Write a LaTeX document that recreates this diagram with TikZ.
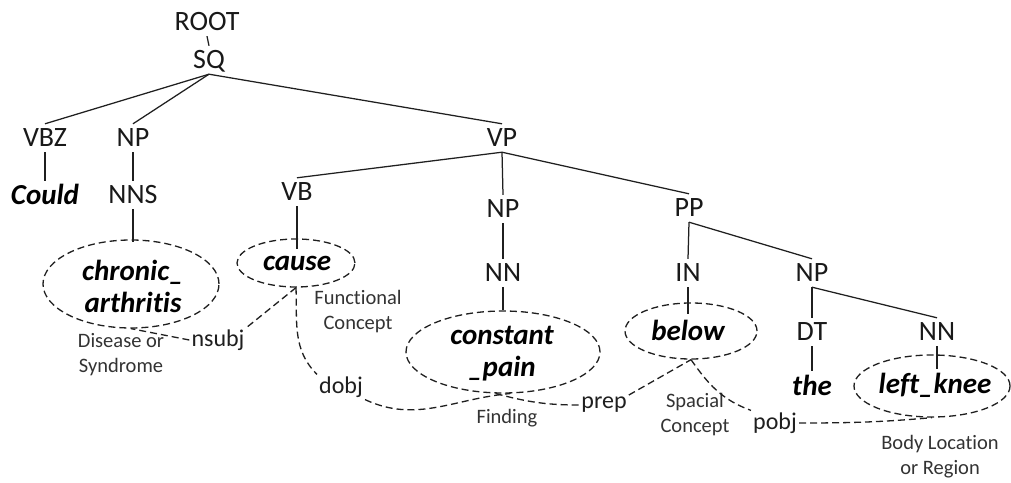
\documentclass[tikz,border=0pt]{standalone}
\usepackage{fontspec}
\setmainfont{Carlito}[Ligatures={NoCommon}]
\usetikzlibrary{shapes.geometric,calc}
\begin{document}
\begin{tikzpicture}[x=1pt,y=1pt,
  tag/.style={font=\fontsize{28}{30}\selectfont, text=black!90, inner xsep=1pt, inner ysep=5pt, text height=18pt, text depth=0pt},
  word/.style={font=\fontsize{29}{30}\selectfont\bfseries\itshape, inner xsep=1pt, inner ysep=4pt, text height=20pt, text depth=0pt},
  ewords/.style={font=\fontsize{29}{32}\selectfont\bfseries\itshape, align=center, inner sep=0pt},
  sem/.style={font=\fontsize{20.5}{25}\selectfont, text=black!80, align=center, inner sep=1pt},
  dep/.style={font=\fontsize{24}{26}\selectfont, text=black!88, inner sep=2pt},
  treeline/.style={line width=1.25pt, black!88},
  dashline/.style={line width=1.3pt, dash pattern=on 7pt off 4pt, black!88},
  concept/.style={ellipse, draw=black!88, line width=1.3pt, dash pattern=on 7pt off 4pt, inner sep=0pt},
]
\useasboundingbox[fill=white] (0,0) rectangle (1011,482);

% tree labels
\node[tag] (root) at (207,460) {ROOT};
\node[tag] (sq) at (209,422) {SQ};
\node[tag] (vbz) at (45,344) {VBZ};
\node[tag] (np1) at (133,344) {NP};
\node[tag] (vp) at (502,344) {VP};
\node[word] (could) at (45,287) {Could};
\node[tag] (nns) at (133,287) {NNS};
\node[tag] (vb) at (297,290) {VB};
\node[tag] (np2) at (503,273) {NP};
\node[tag] (pp) at (689,274) {PP};
\node[tag] (nn1) at (503,209) {NN};
\node[tag] (inn) at (688,209) {IN};
\node[tag] (np3) at (812,209) {NP};
\node[tag] (dt) at (812,150) {DT};
\node[tag] (nn2) at (937,150) {NN};
\node[word] (the) at (812,97) {the};

% concept ellipses
\node[concept, minimum width=176, minimum height=88] (chronicE) at (131,198) {};
\node[ewords] (chronicT) at (133,196) {chronic\_\\arthritis};
\node[concept, minimum width=118, minimum height=48] (causeE) at (296,219) {};
\node[ewords] (causeT) at (297,219) {cause};
\node[concept, minimum width=194, minimum height=82] (constE) at (503,130) {};
\node[ewords] (constT) at (502,128) {constant\\\_pain};
\node[concept, minimum width=132, minimum height=56] (belowE) at (691,151) {};
\node[ewords] (belowT) at (688,152) {below};
\node[concept, minimum width=156, minimum height=62] (kneeE) at (932,96) {};
\node[ewords] (kneeT) at (935,97) {left\_knee};

% semantic types
\node[sem] (t1) at (121,127) {Disease or\\Syndrome};
\node[sem] (t2) at (358,170) {Functional\\Concept};
\node[sem] (t3) at (507,64) {Finding};
\node[sem] (t4) at (695,67) {Spacial\\Concept};
\node[sem] (t5) at (940,25) {Body Location\\or Region};

% dependency labels
\node[dep] (nsubj) at (218,142) {nsubj};
\node[dep] (dobj) at (341,95) {dobj};
\node[dep] (prep) at (604,77) {prep};
\node[dep] (pobj) at (775,59) {pobj};

% tree edges
\draw[treeline] (root.south) -- (sq.north);
\draw[treeline] (sq.south) -- (vbz.north);
\draw[treeline] (sq.south) -- (np1.north);
\draw[treeline] (sq.south) -- (vp.north);
\draw[treeline] (vbz.south) -- (could.north);
\draw[treeline] (np1.south) -- (nns.north);
\draw[treeline] (vp.south) -- (vb.north);
\draw[treeline] (vp.south) -- (np2.north);
\draw[treeline] (vp.south) -- (pp.north);
\draw[treeline] (np2.south) -- (nn1.north);
\draw[treeline] (pp.south) -- (inn.north);
\draw[treeline] (pp.south) -- (np3.north);
\draw[treeline] (np3.south) -- (dt.north);
\draw[treeline] (np3.south) -- (nn2.north);
\draw[treeline] (dt.south) -- (the.north);
\draw[treeline] (nns.south) -- ($(nns.south |- chronicE.north)+(0,-3)$);
\draw[treeline] (vb.south) -- ($(vb.south |- causeE.north)+(0,-11)$);
\draw[treeline] (nn1.south) -- (constE.north);
\draw[treeline] (inn.south) -- ($(inn.south |- belowE.north)+(0,-12)$);
\draw[treeline] (nn2.south) -- ($(nn2.south |- kneeE.north)+(0,-15)$);

% dependency arcs
\draw[dashline] (causeE.south) -- (nsubj.north east);
\draw[dashline] (nsubj.west) -- (chronicE.south);
\draw[dashline] (causeE.south) to[out=-88, in=135] (dobj.north west);
\draw[dashline] (dobj.south east) to[out=-25, in=185] (constE.-80);
\draw[dashline] (constE.-100) to[out=-15, in=180] (prep.west);
\draw[dashline] (prep.north east) -- (belowE.south);
\draw[dashline] (belowE.south) to[out=-55, in=160] (pobj.north west);
\draw[dashline] (pobj.east) to[out=0, in=185] (kneeE.south);
\end{tikzpicture}
\end{document}
